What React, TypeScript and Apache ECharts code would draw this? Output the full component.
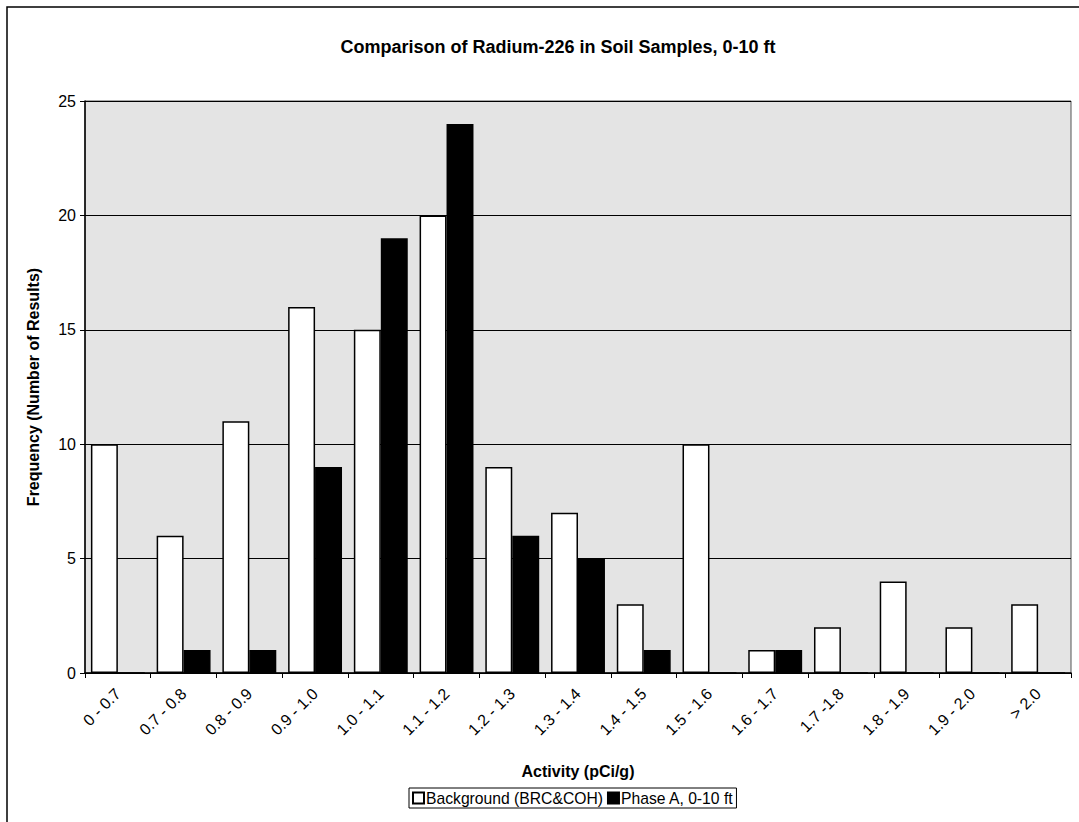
import React, { useEffect, useRef } from "react";
import * as echarts from "echarts";

const categories = [
  "0 - 0.7", "0.7 - 0.8", "0.8 - 0.9", "0.9 - 1.0", "1.0 - 1.1", "1.1 - 1.2",
  "1.2 - 1.3", "1.3 - 1.4", "1.4 - 1.5", "1.5 - 1.6", "1.6 - 1.7", "1.7 -1.8",
  "1.8 - 1.9", "1.9 - 2.0", "> 2.0",
];
const background = [10, 6, 11, 16, 15, 20, 9, 7, 3, 10, 1, 2, 4, 2, 3];
const phaseA = [0, 1, 1, 9, 19, 24, 6, 5, 1, 0, 1, 0, 0, 0, 0];
const seriesNames = ["Background (BRC&COH)", "Phase A, 0-10 ft"];

const FONT = "'Liberation Sans', Arial, sans-serif";

export default function App() {
  const ref = useRef<HTMLDivElement>(null);
  useEffect(() => {
    if (!ref.current) return;
    const chart = echarts.init(ref.current, undefined, { renderer: "svg" });
    chart.setOption({
      animation: false,
      backgroundColor: "#fff",
      textStyle: { fontFamily: FONT, color: "#000" },
      title: {
        text: "Comparison of Radium-226 in Soil Samples, 0-10 ft",
        left: 553,
        top: 33,
        textAlign: "center",
        textStyle: { fontFamily: FONT, fontSize: 18, fontWeight: "bold", color: "#000" },
      },
      graphic: [
        {
          type: "rect",
          shape: { x: 7, y: 7, width: 1100, height: 900 },
          style: { fill: "none", stroke: "#000", lineWidth: 1.5 },
          silent: true,
          z: 100,
        },
      ],
      legend: {
        data: seriesNames,
        left: 409,
        top: 788,
        itemWidth: 11,
        itemHeight: 11,
        itemGap: 4,
        padding: [2, 3, 2, 3],
        borderColor: "#000",
        borderWidth: 1,
        icon: "rect",
        textStyle: { fontFamily: FONT, fontSize: 15.7, color: "#000", padding: [0, 0, 0, -3] },
      },
      grid: {
        left: 85,
        top: 101,
        right: 8,
        bottom: 149,
        show: true,
        backgroundColor: "#e4e4e4",
        borderColor: "#555",
        borderWidth: 1,
      },
      xAxis: {
        type: "category",
        data: categories,
        name: "Activity (pCi/g)",
        nameLocation: "middle",
        nameGap: 90,
        nameTextStyle: { fontFamily: FONT, fontSize: 16, fontWeight: "bold", color: "#000" },
        axisLine: { lineStyle: { color: "#000", width: 1.5 } },
        axisTick: { show: true, alignWithLabel: false, length: 5, lineStyle: { color: "#000" } },
        axisLabel: { rotate: 45, fontFamily: FONT, fontSize: 16, color: "#000", margin: 18, interval: 0 },
      },
      yAxis: {
        type: "value",
        min: 0,
        max: 25,
        interval: 5,
        name: "Frequency (Number of Results)",
        nameLocation: "middle",
        nameGap: 44,
        nameTextStyle: { fontFamily: FONT, fontSize: 16, fontWeight: "bold", color: "#000" },
        axisLine: { show: true, lineStyle: { color: "#000", width: 1.5 } },
        axisTick: { show: true, length: 5, lineStyle: { color: "#000" } },
        axisLabel: { fontFamily: FONT, fontSize: 16, color: "#000", margin: 9 },
        splitLine: { show: true, lineStyle: { color: "#000", width: 1.2 } },
      },
      series: [
        {
          name: seriesNames[0],
          type: "bar",
          data: background,
          barGap: "0%",
          barCategoryGap: "18%",
          itemStyle: { color: "#fff", borderColor: "#000", borderWidth: 1.5 },
        },
        {
          name: seriesNames[1],
          type: "bar",
          data: phaseA,
          itemStyle: { color: "#000", borderColor: "#000", borderWidth: 1.5 },
        },
      ],
    });
    return () => chart.dispose();
  }, []);
  return <div ref={ref} style={{ width: 1079, height: 822, position: "absolute", left: 0, top: 0 }} />;
}
